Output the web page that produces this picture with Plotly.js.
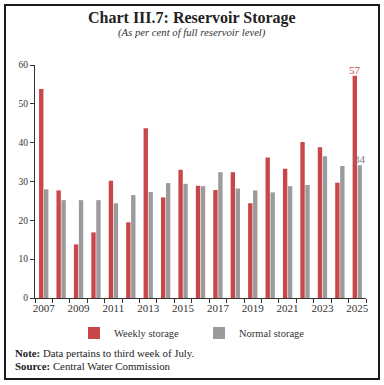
<!DOCTYPE html>
<html>
<head>
<meta charset="utf-8">
<script src="https://cdn.plot.ly/plotly-3.0.1.min.js"></script>
<style>
html,body{margin:0;padding:0;background:#fff;}
#chart{width:384px;height:385px;}
</style>
</head>
<body>
<div id="chart"></div>
<script>
const years = [2007,2008,2009,2010,2011,2012,2013,2014,2015,2016,2017,2018,2019,2020,2021,2022,2023,2024,2025];
const weeklyStorage = [53.8,27.7,13.8,16.9,30.2,19.5,43.7,25.9,33.0,28.9,27.8,32.4,24.4,36.2,33.3,40.2,38.8,29.7,57.2];
const normalStorage = [28.0,25.2,25.2,25.2,24.4,26.5,27.3,29.6,29.4,28.8,32.4,28.2,27.7,27.2,28.8,29.1,36.5,34.0,34.2];
const seriesNames = ['Weekly storage','Normal storage'];
const yTicks = [0,10,20,30,40,50,60];

const lastLabel = arr => arr.map((v,i)=> i===arr.length-1 ? String(Math.round(v)) : '');

const FONT = 'Liberation Serif, DejaVu Serif, serif';
const RED = '#C9474B';
const GRAY = '#9B9B9D';

const traces = [
  {type:'bar', name:seriesNames[0], x:years, y:weeklyStorage, marker:{color:RED},
   text:lastLabel(weeklyStorage), textposition:'outside', constraintext:'none', cliponaxis:false,
   textfont:{family:FONT,size:11,color:RED}, hoverinfo:'x+y'},
  {type:'bar', name:seriesNames[1], x:years, y:normalStorage, marker:{color:GRAY},
   text:lastLabel(normalStorage), textposition:'outside', constraintext:'none', cliponaxis:false,
   textfont:{family:FONT,size:11,color:'#777'}, hoverinfo:'x+y'}
];

const L=35, R=18, T=65, B=87, W=384, H=385;
const pw = W-L-R, ph = H-T-B;
const px = x => (x-L)/pw;
const py = y => (H-B-y)/ph;

const layout = {
  width:W, height:H,
  margin:{l:L,r:R,t:T,b:B,pad:0},
  paper_bgcolor:'#fff', plot_bgcolor:'#fff',
  font:{family:FONT,color:'#333'},
  barmode:'group', bargap:0.43, bargroupgap:0.12,
  showlegend:true,
  legend:{orientation:'h', x:px(74), xanchor:'left', y:py(333), yanchor:'middle',
          font:{family:FONT,size:10.5,color:'#333'}, entrywidth:80, entrywidthmode:'pixels',
          itemwidth:30, bgcolor:'rgba(0,0,0,0)'},
  xaxis:{type:'linear', range:[years[0]-0.5, years[years.length-1]+0.5],
         tick0:years[0], dtick:2, ticks:'', showgrid:false, zeroline:false,
         showline:true, linecolor:'#333', linewidth:1,
         tickfont:{family:FONT,size:11,color:'#333'},
         minor:{tick0:years[0]-0.5, dtick:1, ticks:'outside', ticklen:4, tickcolor:'#333', showgrid:false}},
  yaxis:{range:[0,60], tickmode:'array', tickvals:yTicks, ticks:'outside', ticklen:4, tickcolor:'#333',
         showgrid:false, zeroline:false, showline:true, linecolor:'#333', linewidth:1,
         tickfont:{family:FONT,size:9.5,color:'#333'}},
  annotations:[
    {xref:'paper', yref:'paper', x:px(192), y:py(18), xanchor:'center', yanchor:'middle', showarrow:false,
     text:'<b>Chart III.7: Reservoir Storage</b>', font:{family:FONT,size:16,color:'#222'}},
    {xref:'paper', yref:'paper', x:px(192), y:py(32), xanchor:'center', yanchor:'middle', showarrow:false,
     text:'<i>(As per cent of full reservoir level)</i>', font:{family:FONT,size:10.7,color:'#333'}},
    {xref:'paper', yref:'paper', x:px(13), y:py(353), xanchor:'left', yanchor:'middle', showarrow:false,
     text:'<b>Note:</b> Data pertains to third week of July.', font:{family:FONT,size:10.8,color:'#222'}},
    {xref:'paper', yref:'paper', x:px(13), y:py(366), xanchor:'left', yanchor:'middle', showarrow:false,
     text:'<b>Source:</b> Central Water Commission', font:{family:FONT,size:10.8,color:'#222'}}
  ],
  shapes:[
    {type:'rect', xref:'paper', yref:'paper', x0:px(5), x1:px(379), y0:py(379), y1:py(5),
     line:{color:'#1a1a1a', width:2}, fillcolor:'rgba(0,0,0,0)'}
  ]
};

Plotly.newPlot('chart', traces, layout, {staticPlot:true, displayModeBar:false});
</script>
</body>
</html>
